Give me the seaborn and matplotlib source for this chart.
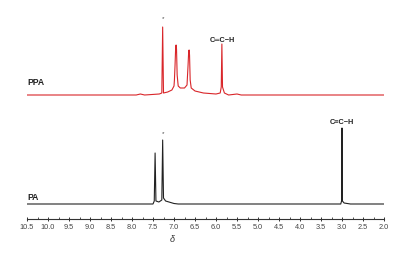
import matplotlib
matplotlib.use("Agg")
import matplotlib.pyplot as plt
import matplotlib.ticker as mticker
import matplotlib.transforms as mtrans
import seaborn as sns
import pandas as pd

# ---- data (chemical shift in ppm, intensity in arbitrary units) ----
ppa_shift = [10.5, 7.9, 7.8, 7.7, 7.35, 7.29, 7.27, 7.25, 7.15, 7.05, 7.0, 6.99,
             6.975, 6.96, 6.95, 6.94, 6.925, 6.9, 6.85, 6.75, 6.69, 6.665, 6.65,
             6.64, 6.63, 6.615, 6.59, 6.5, 6.3, 6.0, 5.9, 5.875, 5.86, 5.845,
             5.8, 5.7, 5.5, 5.4, 2.0]
ppa_int = [0, 0, 1, 0, 1, 2, 68, 2, 3, 5, 9, 15,
           30, 48, 50, 46, 20, 9, 7, 7, 10, 30, 44,
           45, 40, 15, 7, 4, 2, 1, 2, 8, 51, 8,
           2, 0, 1, 0, 0]

pa_shift = [10.5, 7.5, 7.47, 7.45, 7.43, 7.36, 7.29, 7.27, 7.25, 7.2, 7.0, 6.9,
            3.03, 3.01, 3.0, 2.99, 2.95, 2.8, 2.0]
pa_int = [0, 0, 3, 51, 3, 2, 4, 64, 6, 3, 0.5, 0,
          0, 3, 76, 3, 1, 0, 0]

ppa_offset = 124
pa_offset = 15

sample_labels = ["PPA", "PA"]
peak_labels = ["C\u2550C\u2212H", "C\u2261C\u2212H"]
peak_label_pos = [5.86, 3.0]
star_pos = [7.27, 7.27]

tick_values = [10.5, 10.0, 9.5, 9.0, 8.5, 8.0, 7.5, 7.0, 6.5, 6.0, 5.5, 5.0,
               4.5, 4.0, 3.5, 3.0, 2.5, 2.0]

# ---- figure ----
sns.set_theme(style="white")
plt.rcParams["font.family"] = ["Liberation Sans", "DejaVu Sans"]

fig = plt.figure(figsize=(4.16, 2.57), dpi=100)
W, H = 416, 257
ax_left, ax_right, ax_bottom_px, ax_top_px = 27, 384, 219, 8
ax = fig.add_axes([ax_left / W, (H - ax_bottom_px) / H,
                   (ax_right - ax_left) / W, (ax_bottom_px - ax_top_px) / H])

df_ppa = pd.DataFrame({"shift": ppa_shift,
                       "intensity": [v + ppa_offset for v in ppa_int]})
df_pa = pd.DataFrame({"shift": pa_shift,
                      "intensity": [v + pa_offset for v in pa_int]})

sns.lineplot(data=df_ppa, x="shift", y="intensity", sort=False, estimator=None,
             color="#d9262a", linewidth=0.8, ax=ax)
sns.lineplot(data=df_pa, x="shift", y="intensity", sort=False, estimator=None,
             color="#222222", linewidth=0.8, ax=ax)

ax.set_xlim(10.5, 2.0)
ax.set_ylim(0, ax_bottom_px - ax_top_px)

for s in ["top", "right", "left"]:
    ax.spines[s].set_visible(False)
ax.spines["bottom"].set_color("#333333")
ax.spines["bottom"].set_linewidth(0.8)

ax.set_yticks([])
ax.set_xticks(tick_values)
ax.set_xticklabels([f"{v:.1f}" for v in tick_values])
ax.xaxis.set_minor_locator(mticker.MultipleLocator(0.25))
ax.tick_params(axis="x", which="major", direction="inout", length=2.5, width=0.7,
               colors="#333333", labelsize=5.3, pad=2.5, bottom=True,
               labelcolor="#444444")
ax.tick_params(axis="x", which="minor", direction="in", length=1.5, width=0.6,
               colors="#333333", bottom=True)
ax.set_xlabel("")
ax.set_ylabel("")

# sample labels
ax.text(10.5, ppa_offset + 8, sample_labels[0], fontsize=6.2, fontweight="bold",
        color="#222222", ha="left", va="bottom")
ax.text(10.5, pa_offset + 2, sample_labels[1], fontsize=6.2, fontweight="bold",
        color="#222222", ha="left", va="bottom")

# peak labels
ax.text(peak_label_pos[0], ppa_offset + 55, peak_labels[0], fontsize=5.3,
        fontweight="bold", color="#222222", ha="center", va="center")
ax.text(peak_label_pos[1], pa_offset + 82, peak_labels[1], fontsize=5.3,
        fontweight="bold", color="#222222", ha="center", va="center")

# solvent stars
ax.text(star_pos[0], ppa_offset + 76, "*", fontsize=4.5, color="#444444",
        ha="center", va="center")
ax.text(star_pos[1], pa_offset + 70, "*", fontsize=4.5, color="#444444",
        ha="center", va="center")

# delta axis label
trans = mtrans.blended_transform_factory(ax.transData, ax.transAxes)
ax.text(7.05, -20 / (ax_bottom_px - ax_top_px), "\u03b4", fontsize=6.5,
        fontstyle="italic", color="#333333", ha="center", va="center",
        transform=trans)

fig.savefig("out.png", dpi=100, facecolor="white")
